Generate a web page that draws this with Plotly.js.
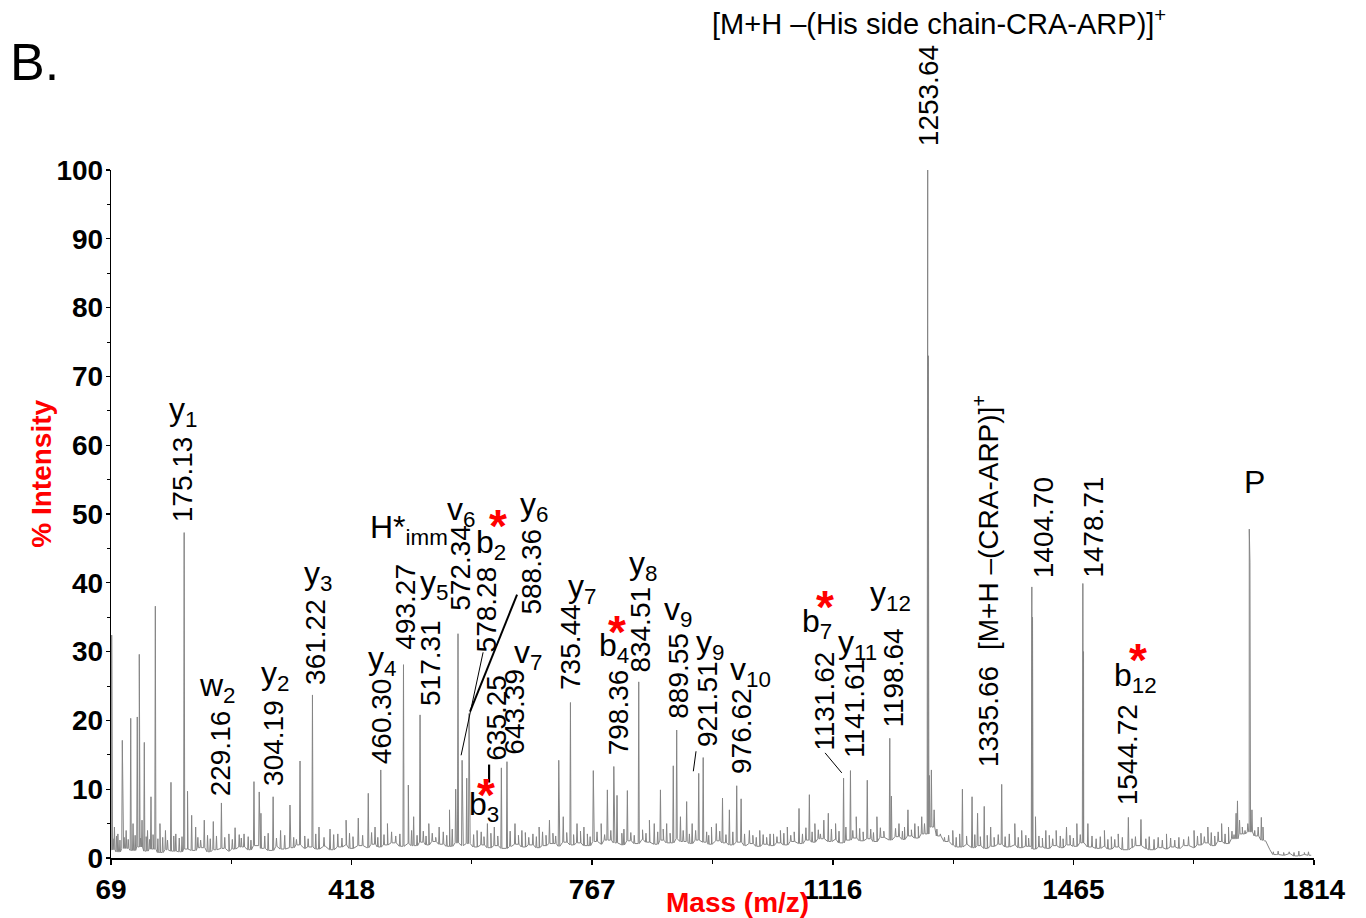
<!DOCTYPE html>
<html>
<head>
<meta charset="utf-8">
<script src="https://cdn.plot.ly/plotly-3.0.1.min.js"></script>
<style>
  html, body { margin: 0; padding: 0; background: #ffffff; }
  #chart { width: 1366px; height: 918px; }
</style>
</head>
<body>
<div id="chart"></div>
<script>
// ---- Spectrum data -------------------------------------------------------

// Noise floor (% intensity), one value every 10 m/z from 70 to 1810
const baselineStart = 70;
const baselineStep = 10;
const baselineLevel = [
  1.2, 0.9, 1.4, 1.1, 1.6, 1.0, 1.3, 0.8, 1.2, 1.0,
  0.9, 1.3, 1.1, 1.5, 0.9, 1.2, 1.4, 1.0, 1.3, 1.6,
  1.2, 1.8, 1.4, 1.1, 1.7, 1.3, 1.5, 1.9, 1.4, 1.6,
  1.3, 1.7, 1.2, 1.6, 1.9, 1.4, 1.8, 1.5, 2.0, 1.6,
  1.9, 2.2, 1.7, 2.1, 1.8, 2.3, 1.9, 2.4, 2.0, 1.7,
  2.2, 1.8, 2.1, 1.6, 1.9, 1.5, 1.8, 1.4, 1.7, 2.0,
  1.6, 1.9, 1.5, 1.8, 2.1, 1.7, 2.3, 1.9, 2.2, 1.8,
  2.4, 2.0, 2.6, 2.2, 1.9, 2.5, 2.1, 2.7, 2.3, 2.0,
  2.6, 2.2, 2.8, 2.4, 2.1, 2.6, 2.3, 2.0, 2.5, 2.2,
  1.9, 2.3, 1.8, 2.1, 1.7, 2.0, 1.8, 2.2, 1.9, 2.4,
  2.1, 2.6, 2.3, 2.8, 2.4, 2.7, 2.2, 2.6, 2.9, 2.5,
  2.8, 2.4, 3.0, 2.6, 3.1, 2.7, 3.2, 2.9, 3.5, 4.5,
  3.2, 2.4, 1.9, 1.6, 2.0, 1.5, 1.8, 1.4, 1.7, 2.0,
  1.6, 1.9, 1.5, 1.7, 1.3, 1.6, 1.4, 1.8, 1.5, 1.9,
  1.7, 2.2, 1.6, 1.4, 1.7, 1.3, 1.6, 1.2, 1.5, 1.8,
  1.4, 1.2, 1.5, 1.3, 1.6, 1.4, 1.8, 1.5, 1.9, 2.2,
  1.8, 2.4, 2.1, 2.8, 3.5, 3.8, 3.2, 2.6, 1.2, 0.5,
  0.4, 0.6, 0.3, 0.5, 0.4
];

// Centroided peaks: m/z and % intensity
const peakMz = [
  70, 74, 79, 85.4, 91, 97.6, 101, 107.1, 110, 114, 117.3, 122, 127, 133.3, 140, 148, 156, 163,
  175.13, 180, 186, 191.8, 204.3, 217.4, 229.16, 240, 249, 262, 276.4, 284, 286.5, 304.19,
  315, 328.6, 343.2, 361.22, 370.7, 386.7, 398, 410, 427.7, 442.2, 452, 460.30, 470,
  493.27, 500.3, 508, 517.31, 530, 545, 560, 569, 572.34, 578.28, 585, 588.36, 600, 615,
  625, 635.25, 643.39, 655, 665, 690, 705, 718.5, 725, 735.44, 745, 755, 768.6, 780, 789,
  798.36, 803, 818, 834.51, 850, 857, 866, 875, 884.6, 889.55, 895, 904, 912, 921.51, 928,
  940, 947, 956, 966, 976.62, 983, 995, 1010, 1025, 1040, 1050, 1067, 1082, 1090, 1103,
  1109.5, 1120, 1131.62, 1141.61, 1150, 1166, 1180, 1198.64, 1201, 1212, 1225, 1235, 1245,
  1253.64, 1254.6, 1256, 1259, 1263, 1290, 1304, 1318, 1326, 1335.66, 1345, 1361, 1380,
  1390, 1404.70, 1405.7, 1410, 1425, 1440, 1455, 1470, 1478.71, 1479.7, 1486, 1510, 1530,
  1544.72, 1563, 1600, 1640, 1660, 1680, 1690, 1701, 1703, 1706, 1710, 1714, 1718, 1720.1,
  1721.1, 1724, 1728, 1733, 1737.6, 1740, 1743
];
const peakInt = [
  32.4, 4.5, 3.5, 17.1, 4, 20.3, 5, 20.5, 29.6, 5.5, 16.8, 4, 8.9, 36.6, 5, 4, 11.0, 3.5,
  47.3, 9.7, 6.2, 4.5, 5.5, 5.3, 8.0, 3.5, 4.4, 3.5, 11.1, 9.6, 6.5, 8.9,
  4, 7.7, 14.1, 23.7, 4.5, 4.2, 3.5, 5.5, 5.8, 9.4, 4.5, 12.8, 5,
  28.1, 10.6, 6, 20.8, 5, 4.5, 7, 10, 32.6, 14.2, 11.6, 21.0, 4, 5,
  4.5, 13.1, 14.0, 5, 4, 4.5, 5.5, 14.2, 6, 22.6, 5, 4.5, 12.7, 5, 9.9,
  13.3, 9.1, 9.8, 25.6, 5.5, 5, 9.9, 5, 13.4, 18.6, 6, 8.2, 5, 12.3, 14.6,
  4.5, 5, 8.7, 7, 10.5, 8.6, 4, 4, 3.5, 4, 4.5, 7.2, 9.2, 5, 5.5,
  6.5, 5, 11.6, 12.7, 6, 11.3, 6, 17.4, 9, 5, 7, 5, 6,
  100, 73, 12, 12.8, 7, 4, 10, 8.9, 6.5, 7.5, 4.5, 10.7, 5,
  4, 39.4, 35, 6, 4, 4, 4.5, 5, 39.9, 30, 5, 4, 3.5,
  5.9, 5.6, 3.5, 4, 4.5, 5, 4.5, 6.5, 8.3, 5.5, 4.5, 4, 5, 47.8,
  43, 7, 4, 4.5, 5.9, 4.5, 2.5
];

// Minor spikes riding on the noise floor: m/z and % intensity
const minorMz = [
  72, 77, 82, 88, 94, 104, 112, 120, 125, 130, 137, 144, 151, 160, 168, 172, 195, 199, 209,
  213, 222, 234, 245, 255, 258, 268, 272, 292, 297, 309, 321, 334, 338, 350, 355, 366, 378,
  392, 404, 415, 420, 434, 447, 456, 465, 476, 482, 488, 505, 513, 522, 526, 535, 540, 551,
  556, 564, 595, 606, 610, 620, 630, 648, 660, 670, 675, 681, 686, 695, 700, 710, 714, 730,
  740, 750, 760, 764, 774, 785, 794, 810, 813, 823, 828, 840, 845, 862, 870, 880, 899, 908,
  917, 933, 936, 952, 961, 971, 988, 1000, 1005, 1015, 1020, 1030, 1035, 1045, 1055, 1060,
  1072, 1077, 1086, 1095, 1098, 1114, 1125, 1135, 1145, 1155, 1160, 1171, 1175, 1185, 1190,
  1207, 1217, 1220, 1230, 1240, 1249, 1267, 1272, 1278, 1284, 1295, 1300, 1310, 1322, 1330,
  1340, 1350, 1356, 1366, 1372, 1385, 1396, 1400, 1415, 1420, 1430, 1435, 1446, 1450, 1460,
  1465, 1475, 1492, 1498, 1504, 1515, 1520, 1525, 1536, 1550, 1555, 1570, 1575, 1582, 1588,
  1594, 1606, 1612, 1618, 1625, 1632, 1645, 1650, 1655, 1665, 1670, 1675, 1685, 1695, 1698,
  1755, 1762, 1770, 1778, 1785, 1792, 1800, 1806
];
const minorInt = [
  2.8, 3.2, 2.6, 3.0, 2.7, 3.3, 2.9, 3.1, 2.7, 3.4, 2.8, 3.0, 2.6, 3.2, 2.9, 3.1, 3.0, 2.6, 3.3,
  2.8, 3.2, 3.0, 2.7, 3.4, 2.9, 3.1, 2.6, 3.2, 3.6, 2.9, 3.3, 3.0, 2.7, 3.2, 2.8, 3.5, 3.0,
  3.4, 2.9, 3.6, 3.1, 3.3, 3.7, 3.0, 3.4, 3.8, 3.2, 3.5, 4.0, 3.3, 3.9, 3.2, 3.6, 3.0, 3.8,
  3.3, 4.2, 3.4, 3.8, 3.1, 3.6, 3.2, 3.9, 3.3, 3.7, 3.0, 3.5, 3.1, 3.8, 3.3, 3.6, 3.2, 3.7,
  3.4, 3.9, 3.5, 3.1, 3.8, 3.4, 4.0, 3.6, 4.2, 3.7, 3.3, 4.1, 3.6, 3.8, 4.2, 3.6, 4.0, 3.5,
  4.0, 3.8, 3.3, 3.9, 3.4, 3.8, 3.5, 3.3, 3.0, 3.4, 3.0, 3.5, 3.1, 3.6, 3.3, 3.8,
  3.5, 4.4, 3.8, 4.1, 3.5, 4.2, 3.9, 4.5, 4.0, 4.3, 3.8, 4.2, 3.7, 4.4, 3.9,
  4.3, 3.9, 4.5, 4.1, 4.6, 5.0, 4.2, 3.5, 3.0, 3.3, 3.0, 3.5, 3.2, 3.4, 3.1,
  3.3, 3.0, 3.4, 3.1, 3.5, 3.0, 3.3, 2.9, 3.2, 2.9, 3.3, 2.8, 3.2, 2.8, 3.3,
  2.9, 3.4, 3.2, 2.8, 3.1, 2.7, 3.1, 2.7, 3.0, 2.8, 3.1, 2.8, 3.1, 2.7, 3.0,
  2.6, 2.9, 2.6, 3.0, 2.7, 3.1, 3.2, 3.6, 3.1, 3.7, 3.2, 3.8, 3.5, 3.9, 3.4,
  0.9, 1.0, 0.8, 0.9, 0.8, 1.0, 0.8, 0.9
];

// Labelled peak masses
const massLabels = [
  '175.13', '229.16', '304.19', '361.22', '460.30', '493.27', '517.31', '572.34', '578.28',
  '588.36', '635.25', '643.39', '735.44', '798.36', '834.51', '889.55', '921.51', '976.62',
  '1131.62', '1141.61', '1198.64', '1253.64', '1335.66', '1404.70', '1478.71', '1544.72'
];

// Fragment ion names
const ionNames = [
  'y<sub>1</sub>', 'w<sub>2</sub>', 'y<sub>2</sub>', 'y<sub>3</sub>', 'y<sub>4</sub>',
  'H*<sub>imm</sub>', 'y<sub>5</sub>', 'v<sub>6</sub>', 'b<sub>2</sub>', 'y<sub>6</sub>',
  'v<sub>7</sub>', 'b<sub>3</sub>', 'y<sub>7</sub>', 'b<sub>4</sub>', 'y<sub>8</sub>',
  'v<sub>9</sub>', 'y<sub>9</sub>', 'v<sub>10</sub>', 'b<sub>7</sub>', 'y<sub>11</sub>',
  'y<sub>12</sub>', 'b<sub>12</sub>', 'P'
];

// ---- Label placement -----------------------------------------------------

const FONT = 'Liberation Sans, Arial, Helvetica, sans-serif';

// [x shift px, gap above peak top px] for each mass label
const massLabelOffset = {
  '175.13': [-1.5, 8], '229.16': [0, 5], '304.19': [1, 9], '361.22': [3.5, 8],
  '460.30': [1.5, 4], '493.27': [2.5, 13], '517.31': [11, 7], '572.34': [3, 21],
  '578.28': [24, 106], '588.36': [62, 97], '635.25': [-4.5, 5], '643.39': [8, 5],
  '735.44': [0, 11], '798.36': [5, 9], '834.51': [2, 7], '889.55': [1, 9],
  '921.51': [9, 24], '976.62': [5, 9.5], '1131.62': [-18.5, 25], '1141.61': [3.5, 11],
  '1198.64': [4, 9], '1253.64': [1, 22], '1335.66': [5, 37], '1404.70': [12, 7],
  '1478.71': [11, 4], '1544.72': [0, 10]
};

// ion name positions (m/z, %)
const ionPos = [
  [173.4, 64.85], [224.2, 24.76], [306.9, 26.5], [369.3, 41.03], [462.1, 28.69],
  [501.3, 47.71], [537.5, 39.72], [576.7, 50.33], [620.2, 45.53], [682.6, 51.05],
  [673.2, 29.56], [610.0, 7.48], [752.2, 39.14], [798.6, 30.57], [840.7, 42.48],
  [891.5, 35.8], [937.9, 31.0], [997.3, 27.09], [1093.1, 34.06], [1151.1, 31.0],
  [1200.4, 38.13], [1554.4, 26.22], [1728.4, 54.69]
];

// red asterisks marking modified b ions (m/z, %)
const starPos = [[630.4, 49.75], [612.9, 10.68], [803.0, 34.35], [1104.7, 37.98], [1558.7, 30.28]];

// leader lines from a peak top: [mass label, x0, y0, x1, y1, width] in px (y up)
const leaders = [
  ['578.28', -1, 5, 21, 108, 1],
  ['588.36', 1, 2, 48, 119, 2],
  ['635.25', -12.3, 3.3, -12.3, -14.7, 2.2],
  ['921.51', -5.4, 2.1, -2.7, 22.1, 1],
  ['1131.62', -1.8, 5.3, -18.5, 25.3, 1]
];

// ---- Build spectrum trace ------------------------------------------------

function floorAt(mz) {
  let i = Math.round((mz - baselineStart) / baselineStep);
  i = Math.max(0, Math.min(baselineLevel.length - 1, i));
  return baselineLevel[i];
}

const pts = [];
baselineLevel.forEach((v, i) => pts.push([baselineStart + i * baselineStep, v]));
function addSpike(m, h) {
  const f = Math.min(floorAt(m), h);
  pts.push([m - 0.8, f]);
  pts.push([m, h]);
  pts.push([m + 0.8, f]);
}
peakMz.forEach((m, i) => addSpike(m, peakInt[i]));
minorMz.forEach((m, i) => addSpike(m, minorInt[i]));
pts.sort((a, b) => a[0] - b[0]);

const spectrum = {
  type: 'scatter',
  mode: 'lines',
  x: pts.map(p => p[0]),
  y: pts.map(p => p[1]),
  line: { color: '#858585', width: 1 },
  hoverinfo: 'x+y'
};

function intensityOf(label) {
  const m = parseFloat(label);
  const i = peakMz.findIndex(v => Math.abs(v - m) < 1e-6);
  return peakInt[i];
}

// ---- Annotations ---------------------------------------------------------

const annotations = [];

massLabels.forEach(lbl => {
  const off = massLabelOffset[lbl];
  annotations.push({
    x: parseFloat(lbl), y: intensityOf(lbl), xref: 'x', yref: 'y',
    text: lbl, textangle: -90, showarrow: false,
    xanchor: 'center', yanchor: 'bottom', xshift: off[0], yshift: off[1],
    font: { family: FONT, size: 28, color: '#000' }
  });
});

ionNames.forEach((t, i) => {
  annotations.push({
    x: ionPos[i][0], y: ionPos[i][1], xref: 'x', yref: 'y',
    text: t, showarrow: false, xanchor: 'center', yanchor: 'middle',
    font: { family: FONT, size: 32, color: '#000' }
  });
});

starPos.forEach(p => {
  annotations.push({
    x: p[0], y: p[1], xref: 'x', yref: 'y', text: '*', showarrow: false,
    xanchor: 'center', yanchor: 'middle', yshift: -10,
    font: { family: FONT, size: 46, color: '#ff0000', weight: 'bold' }
  });
});

annotations.push({
  x: 1338.2, y: 30.0, xref: 'x', yref: 'y', text: '[M+H \u2013(CRA-ARP)]<sup>+</sup>',
  textangle: -90, showarrow: false, xanchor: 'center', yanchor: 'bottom',
  font: { family: FONT, size: 28, color: '#000' }
});
annotations.push({
  x: 0.688, y: 1.215, xref: 'paper', yref: 'paper',
  text: '[M+H \u2013(His side chain-CRA-ARP)]<sup>+</sup>',
  showarrow: false, xanchor: 'center', yanchor: 'middle',
  font: { family: FONT, size: 29, color: '#000' }
});
annotations.push({
  x: -0.0856, y: 1.157, xref: 'paper', yref: 'paper', text: 'B.',
  showarrow: false, xanchor: 'left', yanchor: 'middle',
  font: { family: FONT, size: 52, color: '#000' }
});
annotations.push({
  x: -0.0574, y: 0.5585, xref: 'paper', yref: 'paper', text: '% Intensity',
  textangle: -90, showarrow: false, xanchor: 'center', yanchor: 'middle',
  font: { family: FONT, size: 28, color: '#ff0000', weight: 'bold' }
});
annotations.push({
  x: 0.5204, y: -0.0646, xref: 'paper', yref: 'paper', text: 'Mass (m/z)',
  showarrow: false, xanchor: 'center', yanchor: 'middle',
  font: { family: FONT, size: 28, color: '#ff0000', weight: 'bold' }
});

const shapes = leaders.map(l => ({
  type: 'line', xref: 'x', yref: 'y',
  xsizemode: 'pixel', ysizemode: 'pixel',
  xanchor: parseFloat(l[0]), yanchor: intensityOf(l[0]),
  x0: l[1], y0: l[2], x1: l[3], y1: l[4],
  line: { color: '#000', width: l[5] }
}));

// ---- Layout --------------------------------------------------------------

const tickFont = { family: FONT, size: 28, color: '#000', weight: 'bold' };

const layout = {
  width: 1366, height: 918,
  margin: { l: 111, r: 52, t: 170, b: 60, pad: 0 },
  paper_bgcolor: '#ffffff', plot_bgcolor: '#ffffff',
  showlegend: false,
  xaxis: {
    range: [69, 1814], autorange: false, tick0: 69, dtick: 349,
    ticks: 'outside', ticklen: 5, tickwidth: 1.5, tickcolor: '#000',
    showline: true, linecolor: '#000', linewidth: 2,
    showgrid: false, zeroline: false, tickfont: tickFont,
    minor: { tick0: 69, dtick: 174.5, ticks: 'outside', ticklen: 4, tickcolor: '#000', tickwidth: 1, showgrid: false }
  },
  yaxis: {
    range: [0, 100], autorange: false, tick0: 0, dtick: 10,
    ticks: 'outside', ticklen: 4, tickwidth: 1.2, tickcolor: '#000',
    ticklabelstandoff: -3,
    showline: true, linecolor: '#000', linewidth: 1.2,
    showgrid: false, zeroline: false, tickfont: tickFont,
    minor: { dtick: 5, ticks: 'outside', ticklen: 3, tickcolor: '#000', tickwidth: 1, showgrid: false }
  },
  annotations: annotations,
  shapes: shapes
};

Plotly.newPlot('chart', [spectrum], layout, { displayModeBar: false, staticPlot: true });
</script>
</body>
</html>
